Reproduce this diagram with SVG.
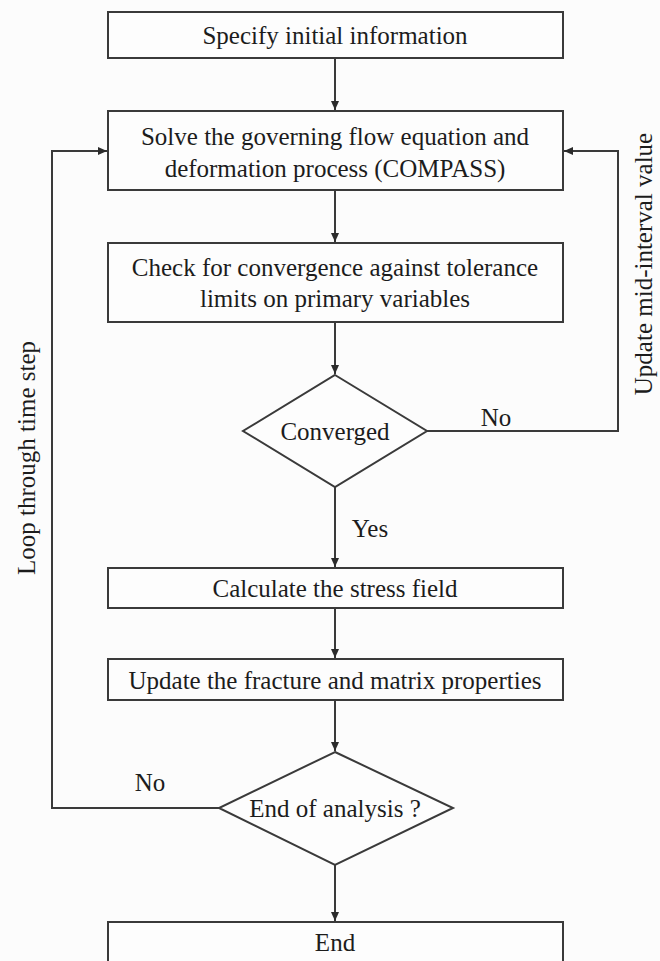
<svg xmlns="http://www.w3.org/2000/svg" width="660" height="961" viewBox="0 0 660 961">
<defs>
<marker id="ah" markerWidth="10" markerHeight="10" refX="9" refY="5" orient="auto" markerUnits="userSpaceOnUse">
<path d="M0,1 L9,5 L0,9 Z" fill="#2b2b2b"/>
</marker>
<style>
.box{fill:#fdfdfd;stroke:#3a3a3a;stroke-width:2}
.t{font-family:"Liberation Serif","Times New Roman",serif;font-size:25px;fill:#1c1c1c;text-anchor:middle;dominant-baseline:central}
.c{fill:none;stroke:#3a3a3a;stroke-width:2}
</style>
</defs>
<rect width="660" height="961" fill="#fcfcfc"/>
<g id="n1"><rect class="box" x="108" y="12" width="455" height="46"/><text class="t" x="335" y="35">Specify initial information</text></g>
<g id="n2"><rect class="box" x="108" y="111" width="455" height="79"/><text class="t" x="335" y="136">Solve the governing flow equation and</text><text class="t" x="335" y="168">deformation process (COMPASS)</text></g>
<g id="n3"><rect class="box" x="108" y="243" width="455" height="79"/><text class="t" x="335" y="267">Check for convergence against tolerance</text><text class="t" x="335" y="298">limits on primary variables</text></g>
<g id="n4"><polygon class="box" points="335,375 427,431 335,487 243,431"/><text class="t" x="335" y="431">Converged</text></g>
<g id="n5"><rect class="box" x="108" y="568" width="455" height="40"/><text class="t" x="335" y="588">Calculate the stress field</text></g>
<g id="n6"><rect class="box" x="108" y="659" width="455" height="41"/><text class="t" x="335" y="680">Update the fracture and matrix properties</text></g>
<g id="n7"><polygon class="box" points="335,752 453,808 335,865 219,808"/><text class="t" x="335" y="808">End of analysis ?</text></g>
<g id="n8"><rect class="box" x="108" y="922" width="455" height="42"/><text class="t" x="335" y="942">End</text></g>
<g id="connectors">
<line class="c" x1="335" y1="58" x2="335" y2="110" marker-end="url(#ah)"/>
<line class="c" x1="335" y1="190" x2="335" y2="242" marker-end="url(#ah)"/>
<line class="c" x1="335" y1="322" x2="335" y2="374" marker-end="url(#ah)"/>
<line class="c" x1="335" y1="487" x2="335" y2="567" marker-end="url(#ah)"/>
<line class="c" x1="335" y1="608" x2="335" y2="658" marker-end="url(#ah)"/>
<line class="c" x1="335" y1="700" x2="335" y2="751" marker-end="url(#ah)"/>
<line class="c" x1="335" y1="865" x2="335" y2="921" marker-end="url(#ah)"/>
<polyline class="c" points="427,431 618,431 618,151 564,151" marker-end="url(#ah)"/>
<polyline class="c" points="219,808 52,808 52,151 107,151" marker-end="url(#ah)"/>
<text class="t" x="496" y="417">No</text>
<text class="t" x="370" y="528">Yes</text>
<text class="t" x="150" y="782">No</text>
<text class="t" transform="translate(26,458) rotate(-90)">Loop through time step</text>
<text class="t" transform="translate(643,264) rotate(-90)">Update mid-interval value</text>
</g>
</svg>
